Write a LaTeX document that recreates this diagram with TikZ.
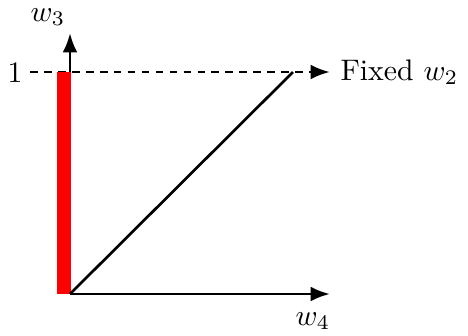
\documentclass[tikz,border=0pt]{standalone}
\usetikzlibrary{arrows.meta}
\begin{document}
\begin{tikzpicture}[x=0.3367pt,y=-0.3367pt,
  axis/.style={line width=1pt,-{Latex[length=6.5pt,width=5pt]}},
  lbl/.style={inner sep=0pt}]
\useasboundingbox (0,0) rectangle (468,336);
\coordinate (O) at (70,294);
\coordinate (W3) at (70,33);
\coordinate (W4) at (330,294);
\coordinate (D0) at (30,72);
\coordinate (D1) at (330,72);
\coordinate (T) at (293,72);
\coordinate (R0) at (64,294);
\coordinate (R1) at (64,72);
\draw[axis] (O) -- (W3);
\draw[axis] (O) -- (W4);
\draw[axis,dash pattern=on 2.6pt off 2.1pt] (D0) -- (D1);
\draw[red,line width=4.6pt] (R0) -- (R1);
\draw[line width=0.9pt] (O) -- (T);
\node[lbl] (one) at (15,73) {1};
\node[lbl] (l3) at (48,17) {$w_3$};
\node[lbl] (l4) at (313,321) {$w_4$};
\node[lbl,anchor=west] (fx) at (340,72) {Fixed $w_2$};
\end{tikzpicture}
\end{document}
